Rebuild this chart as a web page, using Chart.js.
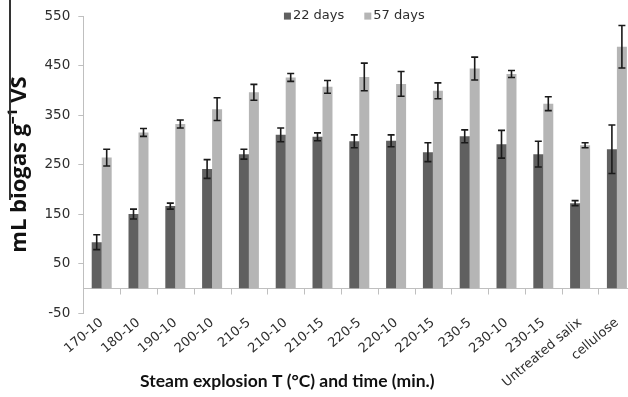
<!DOCTYPE html>
<html>
<head>
<meta charset="utf-8">
<script src="https://cdn.jsdelivr.net/npm/chart.js@4/dist/chart.umd.min.js"></script>
<style>
  html, body { margin: 0; padding: 0; background: #fff; overflow: hidden; width: 628px; height: 397px; }
  #wrap { position: relative; width: 636px; height: 397px; }
  #edge { position: absolute; left: 9px; top: 0; width: 1.5px; height: 200px; background: #333; }
</style>
</head>
<body>
<div id="wrap"><canvas id="c"></canvas><div id="edge"></div></div>
<script>
// Pretreatment conditions (temperature-minutes) plus the two references
const categories = ['170-10', '180-10', '190-10', '200-10', '210-5', '210-10', '210-15',
  '220-5', '220-10', '220-15', '230-5', '230-10', '230-15', 'Untreated salix', 'cellulose'];

// Biogas yield (mL g-1 VS) after 22 and 57 days, with standard deviations
const days22 = [93, 150, 166, 241, 271, 310, 306, 297, 298, 275, 307, 291, 271, 172, 281];
const err22  = [15, 10, 6, 19, 10, 14, 8, 13, 12, 19, 13, 28, 26, 5, 49];
const days57 = [264, 315, 332, 362, 396, 426, 407, 427, 413, 399, 444, 433, 373, 289, 488];
const err57  = [17, 8, 8, 23, 16, 8, 13, 28, 25, 16, 23, 7, 14, 5, 43];

const yTicks = [-50, 50, 150, 250, 350, 450, 550];

const seriesLabels = ['22 days', '57 days'];
const seriesColors = ['#606060', '#b5b5b5'];
const xTitle = 'Steam explosion T (°C) and time (min.)';
const yTitle = 'mL biogas g⁻¹ VS';

const AXIS = '#bfbfbf';
const TEXT = '#2e2e2e';

// Zero baseline with category separators, drawn under the bars
const baseline = {
  id: 'baseline',
  beforeDatasetsDraw(chart) {
    const { ctx, chartArea: ca, scales: { y } } = chart;
    const y0 = Math.round(y.getPixelForValue(0)) + 0.5;
    const step = (ca.right - ca.left) / categories.length;
    ctx.save();
    ctx.strokeStyle = AXIS;
    ctx.lineWidth = 1;
    ctx.beginPath();
    ctx.moveTo(ca.left, y0);
    ctx.lineTo(ca.right, y0);
    for (let i = 1; i <= categories.length; i++) {
      const xp = Math.round(ca.left + i * step) + 0.5;
      ctx.moveTo(xp, y0);
      ctx.lineTo(xp, y0 + 6);
    }
    ctx.stroke();
    ctx.restore();
  }
};

// Standard deviation whiskers
const errorBars = {
  id: 'errorBars',
  afterDatasetsDraw(chart) {
    const { ctx, scales: { y } } = chart;
    const errs = [err22, err57];
    ctx.save();
    ctx.strokeStyle = '#1a1a1a';
    ctx.lineWidth = 1.6;
    chart.data.datasets.forEach((ds, di) => {
      chart.getDatasetMeta(di).data.forEach((bar, j) => {
        const v = ds.data[j], e = errs[di][j];
        const top = y.getPixelForValue(v + e);
        const bot = y.getPixelForValue(v - e);
        const xc = bar.x;
        ctx.beginPath();
        ctx.moveTo(xc, top); ctx.lineTo(xc, bot);
        ctx.moveTo(xc - 3.5, top); ctx.lineTo(xc + 3.5, top);
        ctx.moveTo(xc - 3.5, bot); ctx.lineTo(xc + 3.5, bot);
        ctx.stroke();
      });
    });
    ctx.restore();
  }
};

// Legend row at the top and the category-axis title
const decorations = {
  id: 'decorations',
  afterDraw(chart) {
    const { ctx, chartArea: ca } = chart;
    ctx.save();
    ctx.font = '13px "DejaVu Sans"';
    ctx.textBaseline = 'middle';
    ctx.textAlign = 'left';
    const box = 7, gap = 2, sep = 20;
    const widths = seriesLabels.map(t => box + gap + ctx.measureText(t).width);
    const total = widths.reduce((a, b) => a + b, 0) + sep * (widths.length - 1);
    let xp = (ca.left + ca.right) / 2 - 5 - total / 2;
    const yc = ca.top;
    seriesLabels.forEach((t, i) => {
      ctx.fillStyle = seriesColors[i];
      ctx.fillRect(xp, yc - box / 2, box, box);
      ctx.fillStyle = TEXT;
      ctx.fillText(t, xp + box + gap, yc);
      xp += widths[i] + sep;
    });

    ctx.font = 'bold 17.5px Lato';
    ctx.textAlign = 'center';
    ctx.fillStyle = '#111';
    ctx.fillText(xTitle, ca.left + 204, chart.height - 16);
    ctx.restore();
  }
};

new Chart(document.getElementById('c'), {
  type: 'bar',
  data: {
    labels: categories,
    datasets: [
      { label: seriesLabels[0], data: days22, backgroundColor: seriesColors[0] },
      { label: seriesLabels[1], data: days57, backgroundColor: seriesColors[1] }
    ]
  },
  options: {
    responsive: true,
    maintainAspectRatio: false,
    animation: false,
    layout: { padding: { top: 16, right: 0.7, bottom: 0, left: 0 } },
    datasets: { bar: { categoryPercentage: 0.543, barPercentage: 1.0, borderWidth: 0 } },
    plugins: { legend: { display: false }, tooltip: { enabled: false } },
    scales: {
      x: {
        grid: { display: false },
        border: { display: false },
        ticks: {
          autoSkip: false, minRotation: 40, maxRotation: 40, padding: -6,
          color: TEXT, font: { family: 'DejaVu Sans', size: 13 }
        },
        afterFit(scale) { scale.height = 84; }
      },
      y: {
        min: -50, max: 550,
        afterBuildTicks(scale) { scale.ticks = yTicks.map(v => ({ value: v })); },
        grid: { drawOnChartArea: false, drawTicks: true, tickLength: 5, color: AXIS },
        border: { display: true, color: AXIS },
        ticks: { padding: 8, color: TEXT, font: { family: 'DejaVu Sans', size: 13.5 } },
        title: {
          display: true, text: yTitle, color: '#111',
          font: { family: 'Open Sans', size: 22, weight: 'bold' },
          padding: { top: 7, bottom: 0 }
        },
        afterFit(scale) { scale.width = 83.3; }
      }
    }
  },
  plugins: [baseline, errorBars, decorations]
});
</script>
</body>
</html>
